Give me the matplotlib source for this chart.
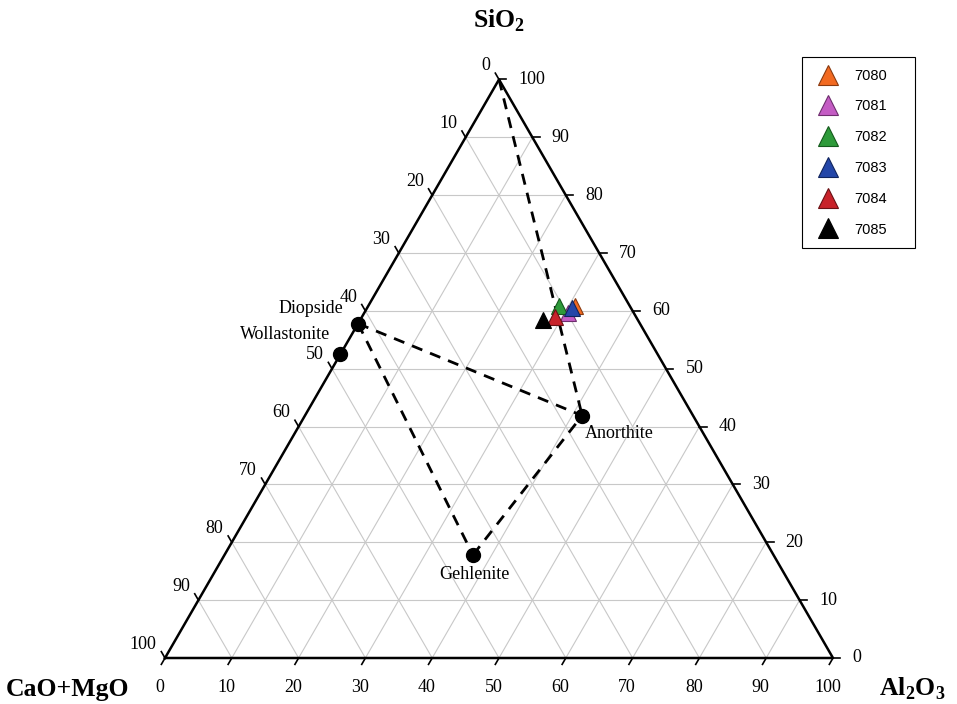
import numpy as np
import matplotlib
matplotlib.use('Agg')
import matplotlib.pyplot as plt

plt.rcParams['mathtext.fontset'] = 'custom'
plt.rcParams['mathtext.rm'] = 'Liberation Serif:bold'
plt.rcParams['mathtext.bf'] = 'Liberation Serif:bold'

# samples (wt%): SiO2, Al2O3 (CaO+MgO is the rest)
samples = ['7080', '7081', '7082', '7083', '7084', '7085']
sio2 = [60.9, 59.7, 60.9, 60.5, 59.0, 58.4]
al2o3 = [30.9, 30.5, 28.5, 30.7, 28.9, 27.4]
colors = ['#F26A21', '#C45CC4', '#2E9A3A', '#2446A8', '#C8222A', '#000000']
edges = ['#8A3A10', '#6E2E6E', '#145A1C', '#10245E', '#6A1014', '#000000']

# reference minerals
minerals = ['Diopside', 'Wollastonite', 'Anorthite', 'Gehlenite']
min_sio2 = [57.8, 52.5, 41.9, 17.8]
min_al2o3 = [0.0, 0.0, 41.5, 37.2]

# dashed tie lines (apex SiO2 = 100 included)
tie_sio2 = [100, 41.9, 57.8, 17.8, 41.9]
tie_al2o3 = [0, 41.5, 0.0, 37.2, 41.5]
tie_order = [[0, 1], [2, 1], [2, 3], [3, 4]]

ticks = list(range(0, 101, 10))

H = np.sqrt(3) / 2


def tern(si, al):
    si = np.asarray(si, dtype=float)
    al = np.asarray(al, dtype=float)
    return al + si / 2, si * H


fig = plt.figure(figsize=(9.57, 7.04), dpi=100)
ax = fig.add_axes([0, 0, 1, 1])
ax.set_xlim(-165 / 6.68, (957 - 165) / 6.68)
ax.set_ylim(-46 / 6.68, 658 / 6.68)
ax.axis('off')

serif = 'Liberation Serif'

# grid lines
for v in ticks[1:-1]:
    # constant SiO2
    x, y = tern([v, v], [0, 100 - v])
    ax.plot(x, y, color='#c8c8c8', lw=0.8, zorder=1)
    # constant Al2O3
    x, y = tern([0, 100 - v], [v, v])
    ax.plot(x, y, color='#c8c8c8', lw=0.8, zorder=1)
    # constant CaO+MgO
    x, y = tern([0, 100 - v], [100 - v, 0])
    ax.plot(x, y, color='#c8c8c8', lw=0.8, zorder=1)

# triangle outline
x, y = tern([0, 0, 100, 0], [0, 100, 0, 0])
ax.plot(x, y, color='black', lw=1.8, zorder=3)

tl = 1.1
for v in ticks:
    # right axis: SiO2
    x, y = tern(v, 100 - v)
    ax.plot([x, x + tl], [y, y], color='black', lw=1.2, zorder=3)
    ax.annotate(str(v), (x, y), xytext=(14, 0), textcoords='offset points',
                ha='left', va='center', fontsize=13, family=serif)
    # bottom axis: Al2O3
    x, y = tern(0, v)
    ax.plot([x, x - tl * 0.5], [y, y - tl * H], color='black', lw=1.2, zorder=3)
    ax.annotate(str(v), (x, y), xytext=(-4, -21), textcoords='offset points',
                ha='center', va='center', fontsize=13, family=serif)
    # left axis: CaO+MgO
    x, y = tern(100 - v, 0)
    ax.plot([x, x - tl * 0.5], [y, y + tl * H], color='black', lw=1.2, zorder=3)
    ax.annotate(str(v), (x, y), xytext=(-6, 10), textcoords='offset points',
                ha='right', va='center', fontsize=13, family=serif)

# axis titles
x, y = tern(100, 0)
ax.annotate('SiO$_2$', (x, y), xytext=(0, 42), textcoords='offset points',
            ha='center', va='center', fontsize=18.5, family=serif, fontweight='bold')
x, y = tern(0, 0)
ax.annotate('CaO+MgO', (x, y), xytext=(-70, -23), textcoords='offset points',
            ha='center', va='center', fontsize=18.5, family=serif, fontweight='bold')
x, y = tern(0, 100)
ax.annotate('Al$_2$O$_3$', (x, y), xytext=(57, -22), textcoords='offset points',
            ha='center', va='center', fontsize=18.5, family=serif, fontweight='bold')

# tie lines
for i, j in tie_order:
    x, y = tern([tie_sio2[i], tie_sio2[j]], [tie_al2o3[i], tie_al2o3[j]])
    ax.plot(x, y, color='black', lw=2, dashes=(4, 3), zorder=4)

# minerals
mx, my = tern(min_sio2, min_al2o3)
ax.plot(mx, my, 'o', color='black', ms=10, zorder=5)
label_off = [(-34, 11), (-40, 14), (27, -13), (1, -14)]
for name, px, py, off in zip(minerals, mx, my, label_off):
    ax.annotate(name, (px, py), xytext=off, textcoords='offset points',
                ha='center', va='center', fontsize=13, family=serif)

# samples
for name, s, a, c, e in zip(samples, sio2, al2o3, colors, edges):
    px, py = tern(s, a)
    ax.plot(px, py, '^', color=c, mec=e, mew=0.8, ms=11, ls='none',
            label=name, zorder=6)

leg = ax.legend(loc='upper left', bbox_to_anchor=(802 / 957, 0.4, 113 / 957, 1 - 57 / 704 - 0.4),
                bbox_transform=fig.transFigure, mode='expand', borderaxespad=0,
                fancybox=False, edgecolor='black', framealpha=1, markerscale=1.35,
                prop={'family': 'Liberation Sans', 'size': 10.5},
                labelspacing=1.15, borderpad=0.8, handlelength=2.0, handletextpad=0.8)
leg.get_frame().set_linewidth(0.8)

fig.savefig('out.png', dpi=100)
